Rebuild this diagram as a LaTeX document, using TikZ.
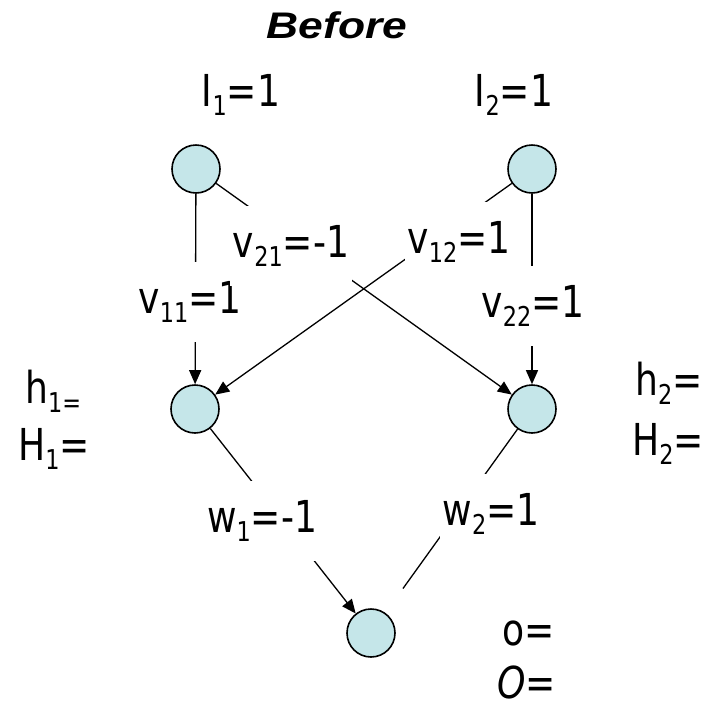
\documentclass[tikz,border=0pt]{standalone}
\usepackage{fontspec}
\setmainfont{DejaVu Sans}[FakeStretch=0.82]
\newfontfamily\titlefont{Liberation Sans}[FakeStretch=1.2]
\usetikzlibrary{arrows.meta}
\definecolor{unitfill}{RGB}{197,230,233}
\newcommand{\low}[1]{\raisebox{-0.22em}{\scalebox{0.62}{#1}}}
\tikzset{
  unit/.style={circle, draw=black, line width=1.6pt, fill=unitfill, minimum size=48pt, inner sep=0pt},
  conn/.style={line width=1.3pt, -{Triangle[length=14pt,width=12pt]}},
  weight/.style={fill=white, inner xsep=3pt, minimum height=80pt, anchor=base, font=\fontsize{44}{48}\selectfont},
  ival/.style={anchor=base, inner sep=0pt, font=\fontsize{44}{48}\selectfont},
  val/.style={anchor=base west, inner sep=0pt, font=\fontsize{44}{48}\selectfont}
}
\begin{document}
\begin{tikzpicture}[x=1pt,y=1pt]
\useasboundingbox (0,0) rectangle (707,-710);

% title
\node[anchor=base, font=\titlefont\fontsize{37}{40}\selectfont\bfseries\itshape] (title) at (337,-38) {Before};

% units
\node[unit] (i1) at (196,-169) {};
\node[unit] (i2) at (532,-169) {};
\node[unit] (h1) at (195,-409) {};
\node[unit] (h2) at (532,-409) {};
\node[unit] (o) at (371,-633) {};

% inputs
\node[ival] (i1val) at (241,-106) {I\low{1}=1};
\node[ival] (i2val) at (514,-106) {I\low{2}=1};

% connections
\draw[conn] (i1) -- (h1);
\draw[conn] (i1) -- (h2);
\draw[conn] (i2) -- (h1);
\draw[conn] (i2) -- (h2);
\draw[conn] (h1) -- (o);
\draw[line width=1.3pt, shorten >=30pt] (h2) -- (o);

% weights
\node[weight] (v11) at (190,-313) {v\low{11}=1};
\node[weight] (v21) at (291,-257) {v\low{21}=-1};
\node[weight] (v12) at (459,-253) {v\low{12}=1};
\node[weight] (v22) at (533,-317) {v\low{22}=1};
\node[weight] (w1) at (262,-532) {w\low{1}=-1};
\node[weight] (w2) at (491,-525) {w\low{2}=1};

% unit values
\node[val] (h1val) at (25,-403) {h\low{1=}};
\node[val] (H1val) at (18,-460) {H\low{1}=};
\node[val] (h2val) at (635,-395) {h\low{2}=};
\node[val] (H2val) at (632,-455) {H\low{2}=};
\node[val] (oval) at (502,-645) {o=};
\node[val] (Oval) at (497,-698) {\textit{O}=};
\end{tikzpicture}
\end{document}
